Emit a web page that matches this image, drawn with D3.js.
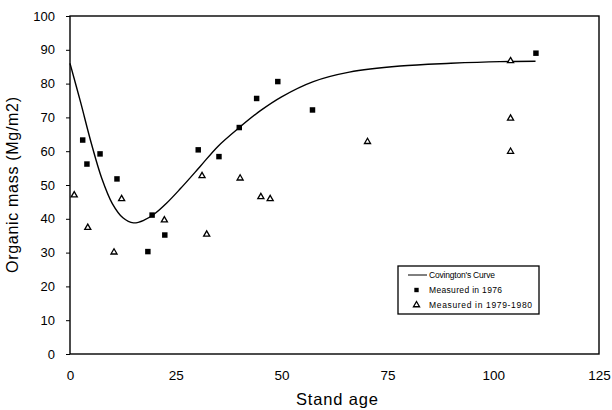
<!DOCTYPE html>
<html>
<head>
<meta charset="utf-8">
<script src="https://cdn.jsdelivr.net/npm/d3@7"></script>
<style>
  body { margin: 0; background: #fff; }
  svg { display: block; font-family: 'Liberation Sans', Arial, sans-serif; }
</style>
</head>
<body>
<div class="visHolder"></div>
<script>
// values
// Covington's curve (stand age, organic mass)
const curveAge = [0, 2.5, 5, 7.5, 10, 12.5, 15, 17.5, 20, 22.8, 26, 30.7, 35, 40, 45, 50, 57.5, 66, 78, 90, 101.6, 110]
const curveMass = [86, 74.5, 62.5, 52, 44.5, 40.3, 38.8, 39.6, 41.5, 44.6, 48.8, 55.4, 61.5, 67, 72, 76.1, 80.6, 83.4, 85.2, 86, 86.5, 86.6]

// Measured in 1976 (squares)
const age1976 = [3, 4, 7.1, 11.1, 18.4, 19.4, 22.4, 30.3, 35.2, 40, 44.1, 49.1, 57.3, 110.1]
const mass1976 = [63.3, 56.2, 59.2, 51.8, 30.3, 41.1, 35.2, 60.4, 58.4, 67, 75.6, 80.6, 72.2, 89]

// Measured in 1979-1980 (triangles)
const age1979 = [1, 4.2, 10.4, 12.2, 22.3, 31.2, 32.3, 40.2, 45.1, 47.3, 70.3, 104.1, 104.1, 104.1]
const mass1979 = [47, 37.4, 30.1, 45.9, 39.6, 52.7, 35.4, 52, 46.5, 45.9, 62.8, 86.7, 69.7, 59.9]

const xTicks = [0, 25, 50, 75, 100, 125]
const yTicks = [0, 10, 20, 30, 40, 50, 60, 70, 80, 90, 100]
const legendLabels = ["Covington's Curve", 'Measured in 1976', 'Measured in 1979-1980']

const W = 612
const H = 410
// plot frame
const plotLeft = 70
const plotRight = 599
const plotTop = 16
const plotBottom = 354

const svg = d3.select('.visHolder').append('svg')
  .attr('width', W)
  .attr('height', H)

const xScale = d3.scaleLinear().domain([0, 125]).range([plotLeft, plotRight])
const yScale = d3.scaleLinear().domain([0, 100]).range([plotBottom, plotTop])

// frame box
svg.append('rect')
  .attr('x', plotLeft)
  .attr('y', plotTop)
  .attr('width', plotRight - plotLeft)
  .attr('height', plotBottom - plotTop)
  .attr('fill', 'none')
  .attr('stroke', '#000')
  .attr('stroke-width', 1.4)

// y axis
const yAxis = d3.axisLeft(yScale)
  .tickValues(yTicks)
  .tickSize(4)
  .tickSizeOuter(0)
  .tickPadding(11)
  .tickFormat(d3.format('d'))

const gy = svg.append('g')
  .attr('transform', `translate(${plotLeft}, 0)`)
  .call(yAxis)
gy.select('.domain').remove()
gy.selectAll('line').attr('stroke', '#000')
gy.selectAll('text').attr('font-size', 13).attr('fill', '#000')

// x axis
const xAxis = d3.axisBottom(xScale)
  .tickValues(xTicks)
  .tickSize(0)
  .tickPadding(16)
  .tickFormat(d3.format('d'))

const gx = svg.append('g')
  .attr('transform', `translate(0, ${plotBottom})`)
  .call(xAxis)
gx.select('.domain').remove()
gx.selectAll('text').attr('font-size', 13.5).attr('fill', '#000')

// axis titles
svg.append('text')
  .attr('x', 337)
  .attr('y', 405)
  .attr('text-anchor', 'middle')
  .attr('font-size', 16.5)
  .attr('textLength', 82)
  .text('Stand age')

svg.append('text')
  .attr('transform', 'translate(18, 185) rotate(-90)')
  .attr('text-anchor', 'middle')
  .attr('font-size', 16)
  .attr('textLength', 176)
  .text('Organic mass (Mg/m2)')

// curve
const line = d3.line()
  .x((d) => xScale(d[0]))
  .y((d) => yScale(d[1]))
  .curve(d3.curveCatmullRom.alpha(0.5))

svg.append('path')
  .datum(curveAge.map((a, i) => [a, curveMass[i]]))
  .attr('d', line)
  .attr('fill', 'none')
  .attr('stroke', '#000')
  .attr('stroke-width', 1.4)

const square = d3.symbol().type(d3.symbolSquare).size(30)
const triangle = d3.symbol().type(d3.symbolTriangle).size(16)

svg.append('g')
  .selectAll('path')
  .data(age1976)
  .enter()
  .append('path')
  .attr('d', square)
  .attr('transform', (d, i) => `translate(${xScale(d)}, ${yScale(mass1976[i])})`)
  .attr('fill', '#000')

svg.append('g')
  .selectAll('path')
  .data(age1979)
  .enter()
  .append('path')
  .attr('d', triangle)
  .attr('transform', (d, i) => `translate(${xScale(d)}, ${yScale(mass1979[i])})`)
  .attr('fill', '#fff')
  .attr('stroke', '#000')
  .attr('stroke-width', 1.3)

// legend
const legend = svg.append('g').attr('id', 'legend')

legend.append('rect')
  .attr('x', 398)
  .attr('y', 266)
  .attr('width', 141)
  .attr('height', 48)
  .attr('fill', '#fff')
  .attr('stroke', '#000')
  .attr('stroke-width', 1.3)

const rowY = [275, 290, 305]

legend.append('line')
  .attr('x1', 408)
  .attr('x2', 427)
  .attr('y1', rowY[0])
  .attr('y2', rowY[0])
  .attr('stroke', '#000')
  .attr('stroke-width', 1)

legend.append('path')
  .attr('d', square)
  .attr('transform', `translate(416.5, ${rowY[1]}) scale(0.8)`)
  .attr('fill', '#000')

legend.append('path')
  .attr('d', triangle)
  .attr('transform', `translate(416.5, ${rowY[2]})`)
  .attr('fill', '#fff')
  .attr('stroke', '#000')
  .attr('stroke-width', 1.3)

const lengths = [66, 73, 103]
legend.selectAll('text')
  .data(legendLabels)
  .enter()
  .append('text')
  .attr('x', 429)
  .attr('y', (d, i) => rowY[i] + 3)
  .attr('font-size', 8.5)
  .attr('textLength', (d, i) => lengths[i])
  .text((d) => d)
</script>
</body>
</html>
